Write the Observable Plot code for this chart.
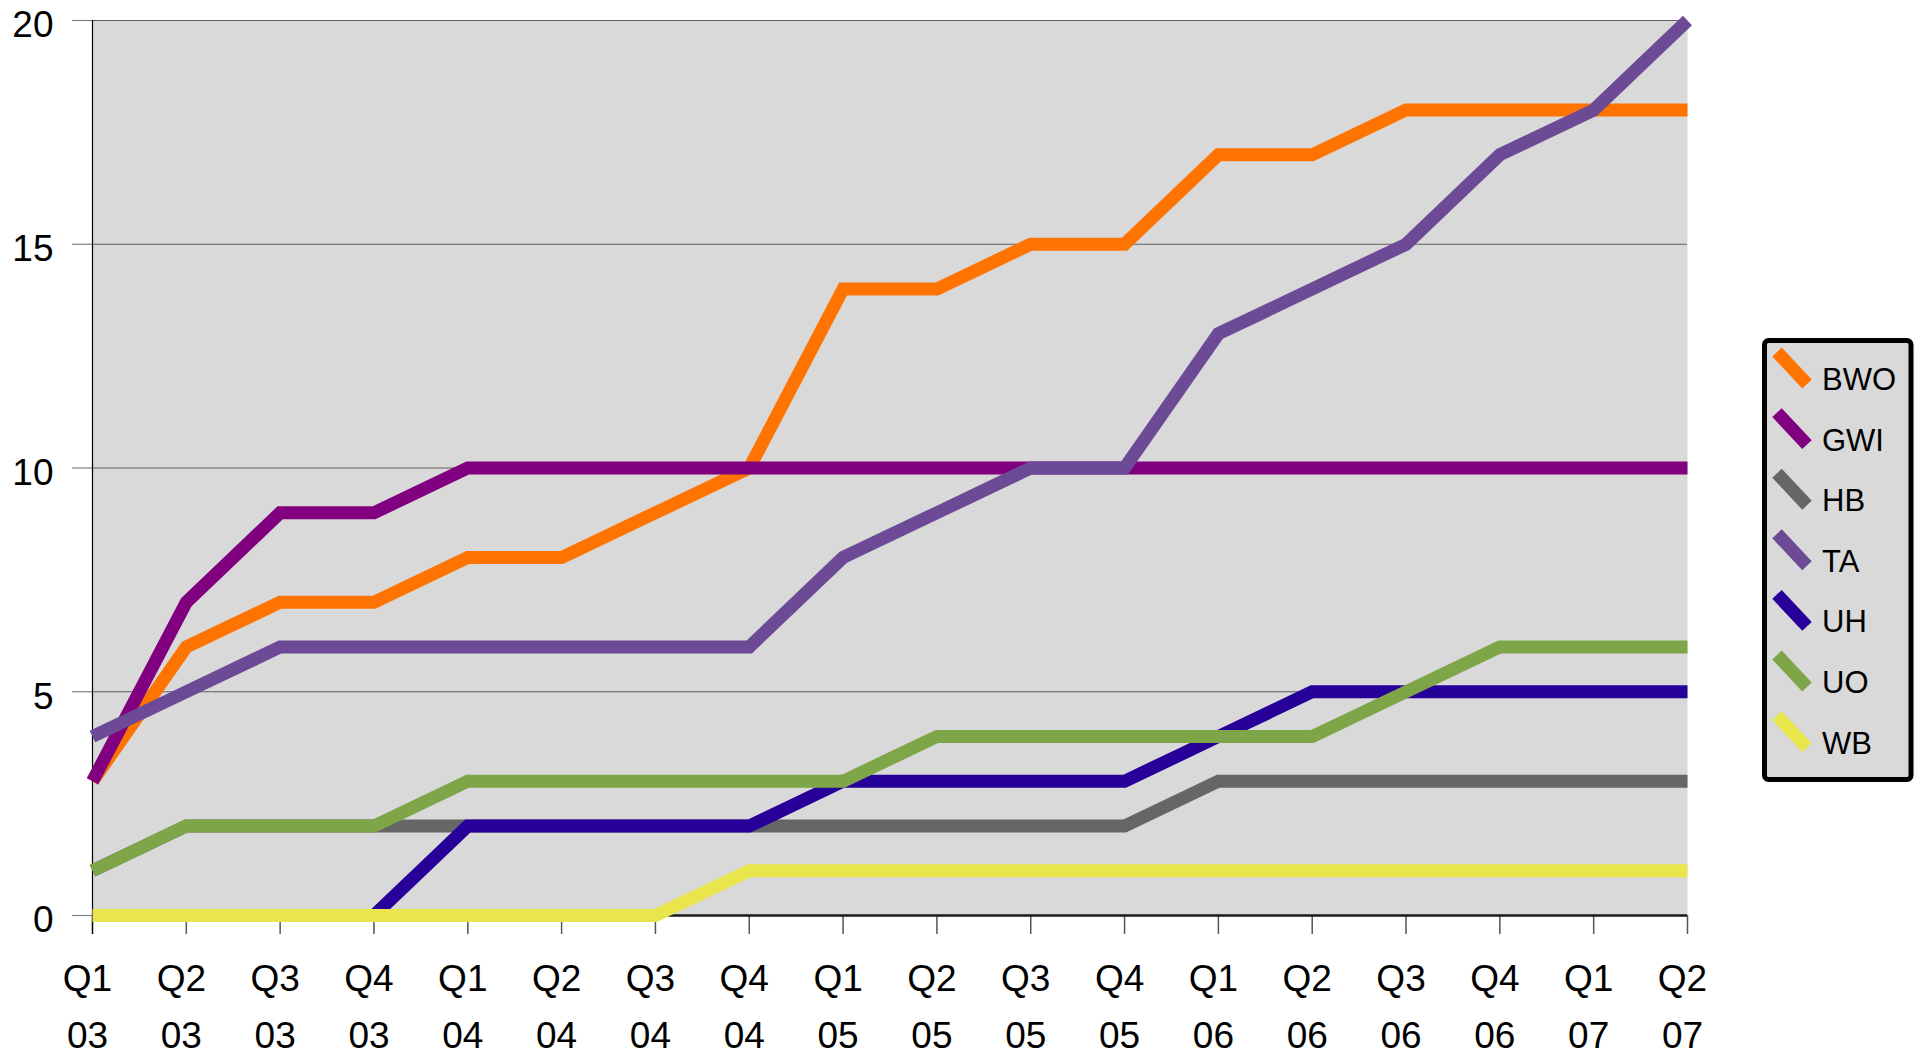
<!DOCTYPE html>
<html>
<head>
<meta charset="utf-8">
<script src="https://cdn.jsdelivr.net/npm/d3@7"></script>
<script src="https://cdn.jsdelivr.net/npm/@observablehq/plot@0.6"></script>
<style>
  html, body { margin: 0; padding: 0; background: #ffffff; overflow: hidden; }
  #wrap { position: relative; width: 1925px; height: 1055px; overflow: hidden;
          font-family: "Liberation Sans", Arial, Helvetica, sans-serif; }
  #wrap > svg:first-child { display: block; max-width: none; }
  #legend { position: absolute; left: 1760px; top: 335px; }
</style>
</head>
<body>
<div id="wrap"></div>
<script>
// ---- data ----
const quarterLabels = ["Q1","Q2","Q3","Q4","Q1","Q2","Q3","Q4","Q1","Q2","Q3","Q4","Q1","Q2","Q3","Q4","Q1","Q2"];
const yearLabels    = ["03","03","03","03","04","04","04","04","05","05","05","05","06","06","06","06","07","07"];

const seriesNames  = ["BWO", "GWI", "HB", "TA", "UH", "UO", "WB"];
const seriesColors = ["#ff7300", "#800080", "#666666", "#6c4a96", "#270099", "#7ea548", "#e8e64c"];

const BWO = [3, 6, 7, 7, 8, 8, 9, 10, 14, 14, 15, 15, 17, 17, 18, 18, 18, 18];
const GWI = [3, 7, 9, 9, 10, 10, 10, 10, 10, 10, 10, 10, 10, 10, 10, 10, 10, 10];
const HB  = [1, 2, 2, 2, 2, 2, 2, 2, 2, 2, 2, 2, 3, 3, 3, 3, 3, 3];
const TA  = [4, 5, 6, 6, 6, 6, 6, 6, 8, 9, 10, 10, 13, 14, 15, 17, 18, 20];
const UH  = [0, 0, 0, 0, 2, 2, 2, 2, 3, 3, 3, 3, 4, 5, 5, 5, 5, 5];
const UO  = [1, 2, 2, 2, 3, 3, 3, 3, 3, 4, 4, 4, 4, 4, 5, 6, 6, 6];
const WB  = [0, 0, 0, 0, 0, 0, 0, 1, 1, 1, 1, 1, 1, 1, 1, 1, 1, 1];

const yTicks = [0, 5, 10, 15, 20];

// ---- build table ----
const seriesValues = [BWO, GWI, HB, TA, UH, UO, WB];
const qIndex = quarterLabels.map((_, i) => i);
const data = seriesNames.flatMap((name, s) =>
  seriesValues[s].map((v, i) => ({series: name, q: i, value: v})));

const FONT = '"Liberation Sans", Arial, Helvetica, sans-serif';
const W = 1925, H = 1055;
const mL = 92, mR = 238, mT = 20, mB = 140;

const chart = Plot.plot({
  width: W,
  height: H,
  marginLeft: mL,
  marginRight: mR,
  marginTop: mT,
  marginBottom: mB,
  style: {fontFamily: FONT, background: "transparent", color: "black", overflow: "visible", maxWidth: "none"},
  x: {type: "point", domain: qIndex, padding: 0, round: false, range: [mL, W - mR]},
  y: {domain: [0, 20], range: [H - mB, mT]},
  color: {domain: seriesNames, range: seriesColors},
  marks: [
    Plot.frame({fill: "#d9d9d9", stroke: null}),
    Plot.gridY(yTicks.slice(1), {stroke: "#5e5e5e", strokeOpacity: 1, strokeWidth: 1}),
    // y ticks (short grey marks left of the axis)
    Plot.axisY(yTicks, {tickSize: 20, tickFormat: () => "", stroke: "#808080", strokeWidth: 1.2, label: null}),
    // y tick labels
    Plot.axisY(yTicks, {tickSize: 0, tickPadding: 39, dy: 5, fontSize: 37, fill: "black", label: null}),
    // x ticks
    Plot.axisX(qIndex, {tickSize: 19, tickFormat: () => "", stroke: "#555555", strokeWidth: 1.5, label: null}),
    // x tick labels (two lines)
    Plot.axisX(qIndex, {
      tickSize: 0, tickPadding: 35, dx: -5, fontSize: 37, lineHeight: 1.54, fill: "black", label: null,
      tickFormat: (d) => quarterLabels[d] + "\n" + yearLabels[d]
    }),
    // axis lines
    Plot.ruleY([0], {stroke: "#1a1a1a", strokeWidth: 2.5}),
    Plot.ruleX([qIndex[0]], {stroke: "black", strokeWidth: 1.2, insetBottom: -19}),
    // series
    Plot.line(data, {
      x: "q", y: "value", z: "series", stroke: "series",
      strokeWidth: 13, strokeLinecap: "butt", strokeLinejoin: "miter", strokeMiterlimit: 4
    })
  ]
});

const wrap = document.getElementById("wrap");
wrap.appendChild(chart);

// ---- legend (right side, boxed) ----
const rowH = 60.6;
const leg = d3.select(wrap).append("svg")
  .attr("id", "legend")
  .attr("width", 160)
  .attr("height", 452)
  .style("font-family", FONT);

leg.append("rect")
  .attr("x", 4.5).attr("y", 5.5)
  .attr("width", 146.5).attr("height", 439)
  .attr("rx", 4).attr("ry", 4)
  .attr("fill", "#d9d9d9")
  .attr("stroke", "black")
  .attr("stroke-width", 5);

const items = leg.selectAll("g.item")
  .data(seriesNames)
  .join("g")
  .attr("class", "item")
  .attr("transform", (d, i) => `translate(0,${i * rowH})`);

items.append("line")
  .attr("x1", 17).attr("y1", 17)
  .attr("x2", 47).attr("y2", 49)
  .attr("stroke", (d, i) => seriesColors[i])
  .attr("stroke-width", 13)
  .attr("stroke-linecap", "butt");

items.append("text")
  .attr("x", 62).attr("y", 55)
  .attr("font-size", 31)
  .attr("fill", "black")
  .text(d => d);
</script>
</body>
</html>
